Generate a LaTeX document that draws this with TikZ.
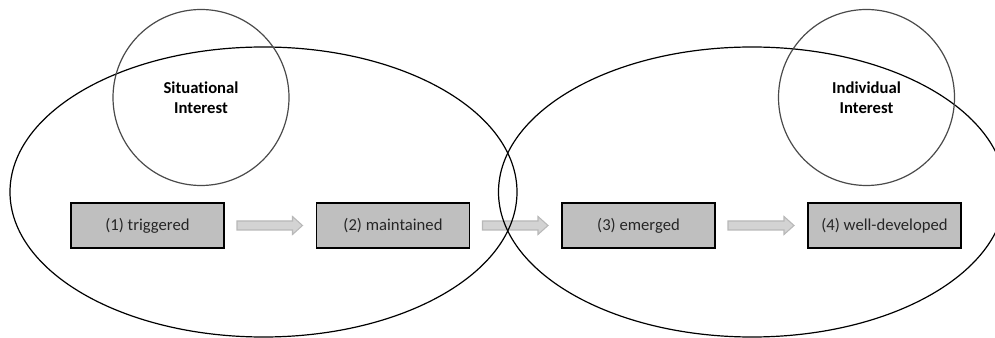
\documentclass[tikz,border=0pt]{standalone}
\usepackage{fontspec}
\setmainfont[Ligatures={NoCommon}]{Carlito}
\usetikzlibrary{calc,shapes.geometric}
\definecolor{boxgray}{HTML}{BFBFBF}
\definecolor{arrfill}{HTML}{D3D3D3}
\definecolor{arrline}{HTML}{B8B8B8}
\definecolor{circline}{HTML}{4A4A4A}
\definecolor{txt}{HTML}{262626}
\newcommand\blockarr[2]{%
  \draw[blockarrow] ($(#1.east)+(13,-4.5)$) -- ($(#2.west)+(-24,-4.5)$) -- ($(#2.west)+(-24,-9)$) -- ($(#2.west)+(-14,0)$) -- ($(#2.west)+(-24,9)$) -- ($(#2.west)+(-24,4.5)$) -- ($(#1.east)+(13,4.5)$) -- cycle;}
\begin{document}
\begin{tikzpicture}[x=0.75pt,y=-0.75pt,
  stagebox/.style={draw=black, line width=1.1pt, fill=boxgray, minimum width=114.75pt, minimum height=33.75pt, inner sep=0pt, outer sep=0pt, text=txt, font=\fontsize{12.5}{15}\selectfont},
  blockarrow/.style={fill=arrfill, draw=arrline, line width=0.8pt},
  bigellipse/.style={ellipse, draw=black, line width=0.9pt, minimum width=380.25pt, minimum height=217.5pt, inner sep=0pt},
  interestcircle/.style={circle, draw=circline, line width=0.9pt, minimum size=132pt, inner sep=0pt, align=center, text=black, font=\fontsize{12.5}{15}\selectfont\bfseries}]
\useasboundingbox (0,0) rectangle (995,338);
\node[stagebox] (b1) at (147.5,225.5) {(1) triggered};
\node[stagebox] (b2) at (393,225.5) {(2) maintained};
\node[stagebox] (b3) at (638.5,225.5) {(3) emerged};
\node[stagebox] (b4) at (884.5,225.5) {(4) well-developed};
\blockarr{b1}{b2}
\blockarr{b2}{b3}
\blockarr{b3}{b4}
\node[bigellipse] (le) at (263.5,192) {};
\node[bigellipse] (re) at (752,192) {};
\node[interestcircle] (si) at (201,97.5) {Situational\\Interest};
\node[interestcircle] (ii) at (866.5,97.5) {Individual\\Interest};
\end{tikzpicture}
\end{document}
